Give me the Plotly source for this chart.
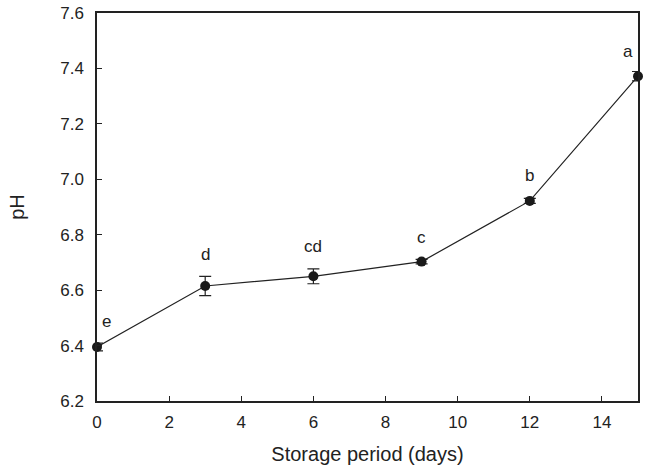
import plotly.graph_objects as go

days = [0, 3, 6, 9, 12, 15]
ph = [6.395, 6.615, 6.650, 6.703, 6.922, 7.372]
ph_err = [0.014, 0.035, 0.027, 0.008, 0.009, 0.017]
letters = ["e", "d", "cd", "c", "b", "a"]
label_dx = [9, 0, 0, 0, 0, -10]
label_dy = [25, 31, 30, 24, 25, 25]

fig = go.Figure()
fig.add_trace(go.Scatter(
    x=days, y=ph, mode="lines+markers",
    line=dict(color="#222222", width=1.2),
    marker=dict(color="#1a1a1a", size=10),
    error_y=dict(type="data", array=ph_err, color="#222222", thickness=1.2, width=6),
    showlegend=False, cliponaxis=False,
))

for x, y, t, dx, dy in zip(days, ph, letters, label_dx, label_dy):
    fig.add_annotation(x=x, y=y, text=t, showarrow=False, xshift=dx, yshift=dy,
                       font=dict(family="Liberation Sans, Arial", size=17, color="#222222"))

axis_common = dict(
    showline=True, linecolor="#222222", linewidth=1.5, mirror=True,
    ticks="inside", ticklen=5, tickcolor="#222222", tickwidth=1.3,
    showgrid=False, zeroline=False, automargin=False,
    tickfont=dict(family="Liberation Sans, Arial", size=17, color="#222222"),
)

fig.update_layout(
    width=656, height=472,
    margin=dict(l=97, r=18, t=13, b=71),
    plot_bgcolor="white", paper_bgcolor="white",
    xaxis=dict(range=[0, 15], tickvals=[0, 2, 4, 6, 8, 10, 12, 14],
               ticklabelstandoff=5,
               title=dict(text="Storage period (days)", standoff=16,
                          font=dict(family="Liberation Sans, Arial", size=20, color="#222222")),
               **axis_common),
    yaxis=dict(range=[6.2, 7.6], tickvals=[6.2, 6.4, 6.6, 6.8, 7.0, 7.2, 7.4, 7.6],
               tickformat=".1f", ticklabelstandoff=8,
               title=dict(text="pH", standoff=30,
                          font=dict(family="Liberation Sans, Arial", size=20, color="#222222")),
               **axis_common),
)

fig.write_html("out.html", post_script="document.body.style.margin='0';",
               config={"displayModeBar": False})
